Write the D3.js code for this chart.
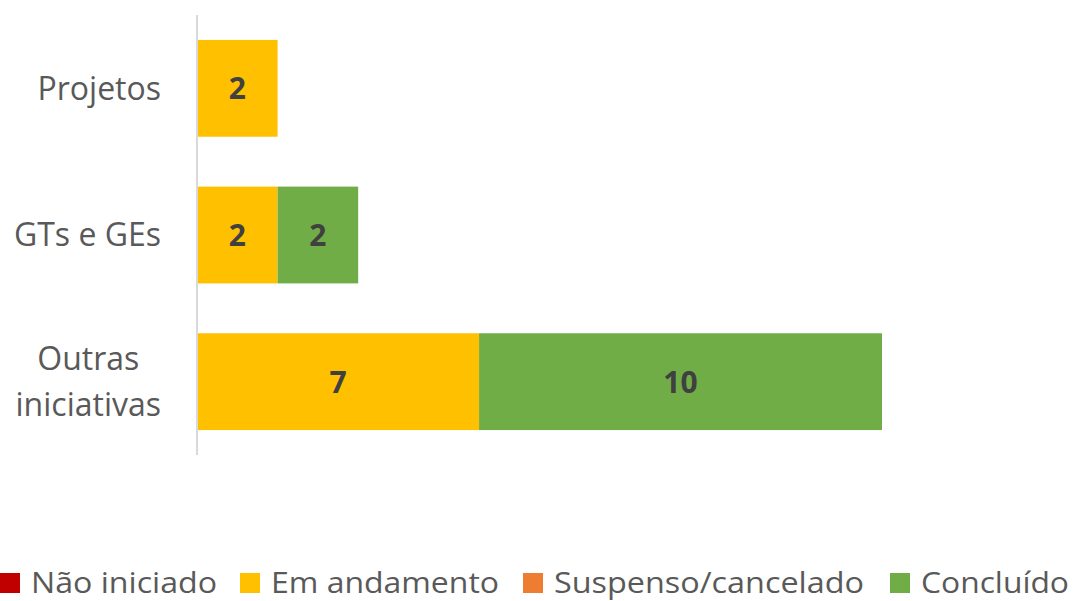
<!DOCTYPE html>
<html>
<head>
<meta charset="utf-8">
<script src="https://cdn.jsdelivr.net/npm/d3@7"></script>
<style>
  body { margin: 0; background: #fff; }
  svg { display: block; }
</style>
</head>
<body>
<script>
// chart data
var categories = ["Projetos", "GTs e GEs", "Outras iniciativas"];
var categoryLines = [["Projetos"], ["GTs e GEs"], ["Outras", "iniciativas"]];
var seriesNames = ["Não iniciado", "Em andamento", "Suspenso/cancelado", "Concluído"];
var seriesColors = ["#C00000", "#FFC000", "#ED7D31", "#70AD47"];
var naoIniciado = [0, 0, 0];
var emAndamento = [2, 2, 7];
var suspenso = [0, 0, 0];
var concluido = [0, 2, 10];

var width = 1073, height = 601;
var fontFamily = "'Open Sans', 'Noto Sans', sans-serif";

var svg = d3.select("body").append("svg")
  .attr("width", width)
  .attr("height", height);

var rows = categories.map(function(c, i) {
  return {
    cat: c,
    "Não iniciado": naoIniciado[i],
    "Em andamento": emAndamento[i],
    "Suspenso/cancelado": suspenso[i],
    "Concluído": concluido[i]
  };
});

var stacked = d3.stack().keys(seriesNames)(rows);

var x = d3.scaleLinear().domain([0, 17]).range([197, 882]);
var y = d3.scaleBand().domain(categories).range([15, 455])
  .paddingInner(0.34).paddingOuter(0.17);

var color = d3.scaleOrdinal().domain(seriesNames).range(seriesColors);

// bars
var layer = svg.selectAll(".layer")
  .data(stacked)
  .enter().append("g")
  .attr("class", "layer")
  .attr("fill", function(d) { return color(d.key); });

layer.selectAll("rect")
  .data(function(d) { return d.filter(function(p) { return p[1] - p[0] > 0; }); })
  .enter().append("rect")
  .attr("x", function(d) { return x(d[0]); })
  .attr("width", function(d) { return x(d[1]) - x(d[0]); })
  .attr("y", function(d) { return y(d.data.cat); })
  .attr("height", y.bandwidth());

layer.selectAll("text")
  .data(function(d) { return d.filter(function(p) { return p[1] - p[0] > 0; }); })
  .enter().append("text")
  .attr("x", function(d) { return (x(d[0]) + x(d[1])) / 2; })
  .attr("y", function(d) { return y(d.data.cat) + y.bandwidth() / 2; })
  .attr("dy", "0.37em")
  .attr("text-anchor", "middle")
  .style("font-family", fontFamily)
  .style("font-weight", "bold")
  .style("font-size", "30px")
  .style("fill", "#404040")
  .text(function(d) { return d[1] - d[0]; });

// vertical axis line
svg.append("line")
  .attr("x1", 197).attr("x2", 197)
  .attr("y1", 15).attr("y2", 455)
  .style("stroke", "#d9d9d9")
  .style("stroke-width", 2);

// category labels
var labelRight = 161;
categories.forEach(function(c, i) {
  var lines = categoryLines[i];
  var cy = y(c) + y.bandwidth() / 2;
  var lh = 46;
  var g = svg.append("g");
  var texts = lines.map(function(l, j) {
    return g.append("text")
      .attr("y", cy + (j - (lines.length - 1) / 2) * lh)
      .attr("dy", "0.35em")
      .attr("text-anchor", "middle")
      .style("font-family", fontFamily)
      .style("font-size", "32px")
      .style("fill", "#595959")
      .text(l);
  });
  var maxW = d3.max(texts, function(t) { return t.node().getComputedTextLength(); });
  texts.forEach(function(t) { t.attr("x", labelRight - maxW / 2); });
});

// legend
var legendX = [0, 240, 523, 890];
var legendTextW = [186, 228, 310, 148];
var legend = svg.selectAll(".legend")
  .data(seriesNames)
  .enter().append("g")
  .attr("class", "legend")
  .attr("transform", function(d, i) { return "translate(" + legendX[i] + ",0)"; });

legend.append("rect")
  .attr("x", 0).attr("y", 573)
  .attr("width", 20).attr("height", 20)
  .attr("fill", function(d) { return color(d); });

legend.append("text")
  .attr("x", 31)
  .attr("y", 593)
  .attr("textLength", function(d, i) { return legendTextW[i]; })
  .attr("lengthAdjust", "spacingAndGlyphs")
  .style("font-family", fontFamily)
  .style("font-size", "30px")
  .style("fill", "#595959")
  .text(function(d) { return d; });
</script>
</body>
</html>
